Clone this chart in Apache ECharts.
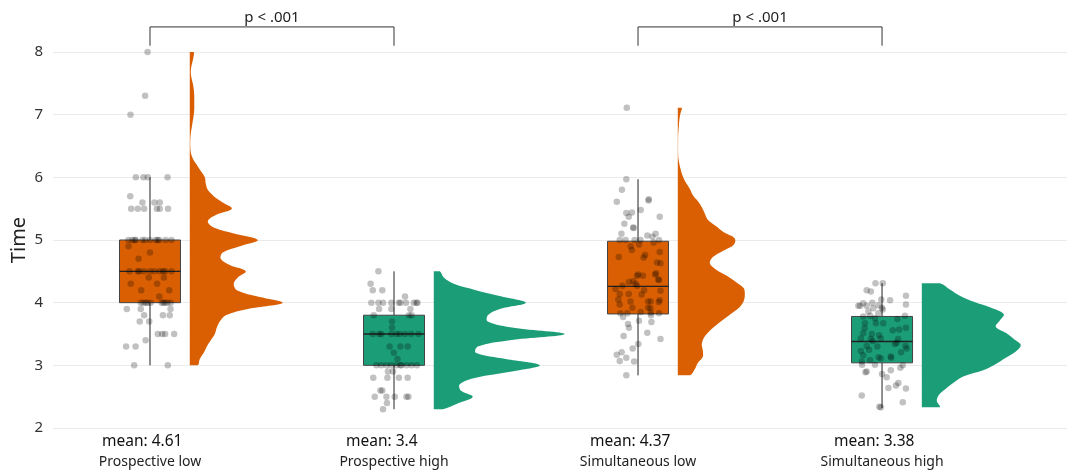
<!DOCTYPE html>
<html><head><meta charset="utf-8">
<script src="https://cdn.jsdelivr.net/npm/echarts@6/dist/echarts.min.js"></script>
<style>html,body{margin:0;padding:0;background:#fff}#c{width:1067px;height:473px}</style>
</head><body><div id="c"></div><script>
// ---------- data ----------
const categories = ['Prospective low', 'Prospective high', 'Simultaneous low', 'Simultaneous high'];
const means = [4.61, 3.4, 4.37, 3.38];
const yTicks = [2, 3, 4, 5, 6, 7, 8];
const pLabels = ['p < .001', 'p < .001'];
const comparisons = [[1, 2], [3, 4]];

const boxMin    = [3.0, 2.3, 2.84, 2.32];
const boxQ1     = [4.0, 3.0, 3.82, 3.04];
const boxMedian = [4.5, 3.5, 4.26, 3.38];
const boxQ3     = [5.0, 3.8, 4.98, 3.78];
const boxMax    = [6.0, 4.5, 5.97, 4.31];

// half-violin density profiles, evenly spaced from violinLow to violinHigh
const violinLow  = [3.0, 2.3, 2.84, 2.33];
const violinHigh = [8.0, 4.5, 7.11, 4.31];
const densityProspectiveLow = [8,10,14,17,21,25,27,30,36,58,93,68,47,44,48,56,40,31,33,50,68,45,24,18,26,42,33,24,18,16,15,11,7,3,1,0.5,0.5,1,2,3,4,4.5,4.5,4.5,4,3,1.5,1,2,3.5,4];
const densityProspectiveHigh = [9,25,39,27,26,42,78,106,72,42,44,76,131,80,54,54,66,92,68,42,20,10,6];
const densitySimultaneousLow = [12,17,20,25,25,24,26,31,38,46,54,62,66,67,66,58,49,38,32,35,45,56,57,46,38,30,27,24,20,15,12,8,5,3,1.5,0.5,0.3,0.3,0.3,0.5,1,1.5,2.5,4];
const densitySimultaneousHigh = [18,15,17,24,32,42,62,74,84,94,99,92,84,74,78,82,70,52,38,28,18];

// raw observations: [value, horizontal jitter]
const pointsProspectiveLow = [
[8.0,-0.01],[7.3,-0.02],[7.0,-0.08],
[6.0,-0.058],[6.0,-0.027],[6.0,-0.009],[6.0,0.072],
[5.7,-0.081],
[5.6,-0.031],[5.6,0.018],[5.6,0.04],
[5.5,-0.077],[5.5,-0.05],[5.5,-0.024],[5.5,0.028],[5.5,0.04],[5.5,0.074],
[5.0,-0.088],[5.0,-0.072],[5.0,-0.062],[5.0,-0.059],[5.0,-0.031],[5.0,-0.02],[5.0,0.0],[5.0,0.024],[5.0,0.031],[5.0,0.038],[5.0,0.064],[5.0,0.088],
[4.9,-0.088],[4.8,0.0],[4.7,-0.047],
[4.5,-0.084],[4.5,-0.05],[4.5,-0.044],[4.5,-0.025],[4.5,0.0],[4.5,0.018],[4.5,0.04],[4.5,0.054],[4.5,0.062],[4.5,0.088],
[4.4,-0.005],[4.4,0.057],[4.3,-0.079],[4.3,0.029],[4.2,-0.036],[4.2,0.079],[4.1,0.038],
[4.0,-0.038],[4.0,-0.027],[4.0,-0.017],[4.0,-0.01],[4.0,0.003],[4.0,0.048],[4.0,0.055],[4.0,0.062],[4.0,0.072],[4.0,0.085],
[3.9,-0.095],[3.9,-0.038],[3.9,0.084],
[3.8,-0.024],[3.8,0.053],[3.8,0.081],
[3.7,-0.042],[3.7,-0.003],
[3.5,0.032],[3.5,0.05],[3.5,0.062],[3.5,0.099],
[3.4,-0.018],[3.3,-0.098],[3.3,-0.059],
[3.0,-0.065],[3.0,0.073]
];
const pointsProspectiveHigh = [
[4.5,-0.064],[4.3,-0.096],[4.2,-0.087],[4.2,-0.048],[4.1,0.045],
[4.0,-0.093],[4.0,-0.064],[4.0,-0.045],[4.0,-0.011],[4.0,0.02],[4.0,0.026],[4.0,0.049],[4.0,0.081],[4.0,0.092],[4.0,0.096],
[3.9,-0.061],[3.9,-0.011],[3.9,0.067],
[3.8,-0.083],[3.8,0.061],[3.8,0.072],
[3.7,-0.008],[3.6,-0.008],
[3.5,-0.087],[3.5,-0.061],[3.5,-0.052],[3.5,-0.011],[3.5,0.01],[3.5,0.023],[3.5,0.045],[3.5,0.07],[3.5,0.1],
[3.3,-0.018],[3.3,0.026],[3.3,0.056],
[3.2,-0.001],[3.1,0.014],
[3.0,-0.072],[3.0,-0.052],[3.0,-0.031],[3.0,-0.011],[3.0,0.01],[3.0,0.026],[3.0,0.03],[3.0,0.051],[3.0,0.072],[3.0,0.094],
[2.9,-0.025],[2.9,-0.004],
[2.8,-0.085],[2.8,-0.027],[2.8,0.02],[2.8,0.056],
[2.6,-0.056],[2.6,-0.048],
[2.5,-0.079],[2.5,-0.031],[2.5,0.003],[2.5,0.051],[2.5,0.059],
[2.4,-0.029],[2.3,-0.045]
];
const pointsSimultaneousLow = [
[7.11,-0.046],[5.97,-0.048],[5.80,-0.066],[5.61,-0.087],[5.65,0.044],[5.63,0.043],
[5.48,0.011],[5.43,-0.048],[5.44,-0.025],[5.37,-0.038],[5.37,0.089],[5.26,-0.056],
[5.20,-0.02],[5.19,-0.018],[5.10,-0.068],[5.07,0.038],[5.10,0.072],[5.05,0.059],
[5.00,-0.075],[5.00,-0.051],[5.00,-0.014],[5.00,0.01],[5.00,0.086],
[4.93,0.004],[4.96,0.064],[4.90,-0.03],[4.84,-0.025],[4.81,0.089],[4.73,-0.079],
[4.76,0.029],[4.72,0.023],[4.64,0.078],[4.63,0.092],[4.45,0.001],[4.43,-0.004],
[4.47,0.074],[4.45,0.07],[4.43,0.02],[4.37,0.083],[4.36,0.086],[4.33,-0.037],
[4.34,-0.02],[4.30,-0.01],[4.27,-0.004],[4.22,-0.092],[4.27,-0.064],[4.20,0.025],
[4.19,0.092],[4.13,0.015],[4.14,-0.075],[4.14,-0.038],[4.05,-0.081],[4.02,-0.031],
[4.02,0.041],[4.02,0.052],[4.04,0.089],[3.97,-0.075],[3.92,0.041],[3.91,0.051],
[3.92,-0.023],[4.01,0.085],[3.83,-0.072],[3.83,-0.044],[3.85,0.011],[3.84,0.052],
[3.83,0.086],[3.77,-0.061],[3.80,0.053],[3.66,-0.041],[3.60,-0.037],[3.71,0.004],
[3.69,0.055],[3.47,-0.059],[3.52,0.038],[3.42,0.092],[3.34,0.001],[3.27,-0.022],
[3.17,-0.087],[3.21,-0.067],[3.12,-0.048],[3.07,-0.075],[3.06,-0.016],[2.84,-0.048]
];
const pointsSimultaneousHigh = [
[4.31,-0.027],[4.31,0.003],[4.20,-0.063],[4.18,-0.046],[4.11,0.098],[4.05,-0.003],[4.04,0.033],
[3.99,-0.077],[4.00,-0.04],[3.96,-0.015],[3.95,-0.097],[3.95,-0.09],[3.97,0.098],
[3.95,-0.063],[3.91,-0.036],[3.92,-0.001],[3.86,-0.056],[3.83,-0.015],[3.89,0.003],
[3.78,-0.077],[3.79,-0.049],[3.75,-0.029],[3.74,0.063],[3.79,0.094],
[3.67,-0.07],[3.67,-0.025],[3.67,0.005],[3.59,-0.071],[3.56,0.044],[3.57,0.07],[3.60,0.098],
[3.51,-0.077],[3.50,-0.042],[3.48,-0.012],[3.43,-0.087],[3.42,-0.046],[3.43,-0.005],[3.42,0.066],
[3.39,-0.038],[3.36,0.06],[3.31,-0.063],[3.30,-0.019],[3.31,0.096],[3.27,0.101],
[3.23,-0.087],[3.25,-0.053],[3.21,0.078],[3.34,0.053],[3.16,-0.077],[3.13,-0.014],[3.14,0.036],[3.12,0.037],
[3.08,-0.049],[3.06,-0.083],[3.11,-0.005],[3.01,-0.029],[3.01,-0.082],
[2.90,-0.063],[2.89,-0.068],[2.96,0.075],[2.86,0.0],[2.92,0.036],[3.00,0.085],[2.81,0.019],
[2.64,0.026],[2.68,0.057],[2.72,0.067],[2.63,0.098],[2.52,-0.083],[2.41,0.085],[2.34,-0.011],[2.33,-0.005]
];

// ---------- styling ----------
const colors = ['#D95F02', '#1B9E77', '#D95F02', '#1B9E77'];
const densities = [densityProspectiveLow, densityProspectiveHigh, densitySimultaneousLow, densitySimultaneousHigh];
const pointSets = [pointsProspectiveLow, pointsProspectiveHigh, pointsSimultaneousLow, pointsSimultaneousHigh];
const FONT = '"Noto Sans", "Open Sans", sans-serif';
const X_MIN = 0.6025, X_MAX = 4.758;
const BOX_HALF = 0.125;
const VIOLIN_OFFSET = 0.163;
const VIOLIN_SCALE = 1 / 244;
const BRACKET_Y = 8.4, BRACKET_LEG = 8.1;

const chart = echarts.init(document.getElementById('c'), null, {renderer: 'canvas'});

const violinData = categories.map((c, i) => [i + 1, violinLow[i], violinHigh[i]]);
const boxData = categories.map((c, i) => [i + 1, boxMin[i], boxQ1[i], boxMedian[i], boxQ3[i], boxMax[i]]);
const scatterData = [];
pointSets.forEach((set, g) => set.forEach(p => scatterData.push([g + 1 + p[1], p[0]])));

const option = {
  animation: false,
  textStyle: {fontFamily: FONT},
  grid: {left: 53, right: 0, top: 52, bottom: 45, containLabel: false, outerBoundsMode: 'none'},
  xAxis: {
    type: 'value', min: X_MIN, max: X_MAX,
    axisLine: {show: false}, axisTick: {show: false}, splitLine: {show: false},
    axisLabel: {
      customValues: [1, 2, 3, 4], margin: 3, fontFamily: FONT,
      formatter: v => '{m|mean: ' + means[Math.round(v) - 1] + '}\n{c|' + categories[Math.round(v) - 1] + '}',
      rich: {
        m: {fontFamily: FONT, fontSize: 15.5, lineHeight: 21, color: '#111', width: 96, align: 'left'},
        c: {fontFamily: FONT, fontSize: 14, lineHeight: 21, color: '#222', width: 96, align: 'center', overflow: 'none'}
      }
    }
  },
  yAxis: {
    type: 'value', min: 2, max: 8, interval: 1,
    name: 'Time', nameLocation: 'middle', nameGap: 24, nameMoveOverlap: false,
    nameTextStyle: {fontFamily: FONT, fontSize: 20, color: '#222'},
    axisLine: {show: false}, axisTick: {show: false},
    axisLabel: {fontFamily: FONT, fontSize: 15, color: '#333', margin: 10,
      customValues: yTicks},
    splitLine: {lineStyle: {color: '#ebebeb', width: 1}}
  },
  series: [
    {
      type: 'custom', name: 'violin', z: 1, clip: false,
      encode: {x: 0, y: [1, 2]},
      data: violinData,
      renderItem: function (params, api) {
        const g = params.dataIndex;
        const pos = api.value(0), lo = api.value(1), hi = api.value(2);
        const d = densities[g];
        const n = d.length;
        const base = pos + VIOLIN_OFFSET;
        const outer = [], inner = [];
        for (let i = 0; i < n; i++) {
          const y = lo + i * (hi - lo) / (n - 1);
          outer.push(api.coord([base + d[i] * VIOLIN_SCALE, y]));
          inner.push(api.coord([base, y]));
        }
        const pts = outer.concat(inner.reverse());
        let minX = Infinity, minY = Infinity, maxX = -Infinity, maxY = -Infinity;
        pts.forEach(p => { minX = Math.min(minX, p[0]); maxX = Math.max(maxX, p[0]); minY = Math.min(minY, p[1]); maxY = Math.max(maxY, p[1]); });
        return {type: 'polygon',
          shape: {points: pts, smooth: 0.35, smoothConstraint: [[minX, minY], [maxX, maxY]]},
          style: {fill: colors[g]}};
      }
    },
    {
      type: 'custom', name: 'box', z: 2, clip: false,
      encode: {x: 0, y: [1, 2, 3, 4, 5]},
      data: boxData,
      renderItem: function (params, api) {
        const g = params.dataIndex;
        const pos = api.value(0);
        const pMin = api.coord([pos, api.value(1)]);
        const pQ1 = api.coord([pos, api.value(2)]);
        const pMed = api.coord([pos, api.value(3)]);
        const pQ3 = api.coord([pos, api.value(4)]);
        const pMax = api.coord([pos, api.value(5)]);
        const xl = api.coord([pos - BOX_HALF, 0])[0];
        const xr = api.coord([pos + BOX_HALF, 0])[0];
        const ls = {stroke: '#222', lineWidth: 1};
        return {type: 'group', children: [
          {type: 'line', shape: {x1: pMin[0], y1: pMin[1], x2: pQ1[0], y2: pQ1[1]}, style: ls},
          {type: 'line', shape: {x1: pQ3[0], y1: pQ3[1], x2: pMax[0], y2: pMax[1]}, style: ls},
          {type: 'rect', shape: {x: xl, y: pQ3[1], width: xr - xl, height: pQ1[1] - pQ3[1]},
            style: {fill: colors[g], stroke: '#444', lineWidth: 1}},
          {type: 'line', shape: {x1: xl, y1: pMed[1], x2: xr, y2: pMed[1]}, style: {stroke: '#222', lineWidth: 1.4}}
        ]};
      }
    },
    {
      type: 'scatter', name: 'points', z: 3,
      data: scatterData, symbol: 'circle', symbolSize: 6.5,
      itemStyle: {color: 'rgba(0,0,0,0.3)'},
      silent: true
    },
    {
      type: 'custom', name: 'brackets', z: 4, clip: false,
      encode: {x: [0, 1]},
      data: comparisons,
      renderItem: function (params, api) {
        const a = api.value(0), b = api.value(1);
        const p1 = api.coord([a, BRACKET_LEG]);
        const p2 = api.coord([a, BRACKET_Y]);
        const p3 = api.coord([b, BRACKET_Y]);
        const p4 = api.coord([b, BRACKET_LEG]);
        return {type: 'group', children: [
          {type: 'polyline', shape: {points: [p1, p2, p3, p4]}, style: {stroke: '#333', lineWidth: 1, fill: null}},
          {type: 'text', x: (p2[0] + p3[0]) / 2, y: p2[1] - 2,
            style: {text: pLabels[params.dataIndex], fontFamily: FONT, fontSize: 15, fill: '#222',
              align: 'center', verticalAlign: 'bottom'}}
        ]};
      }
    }
  ]
};
chart.setOption(option);
</script></body></html>
